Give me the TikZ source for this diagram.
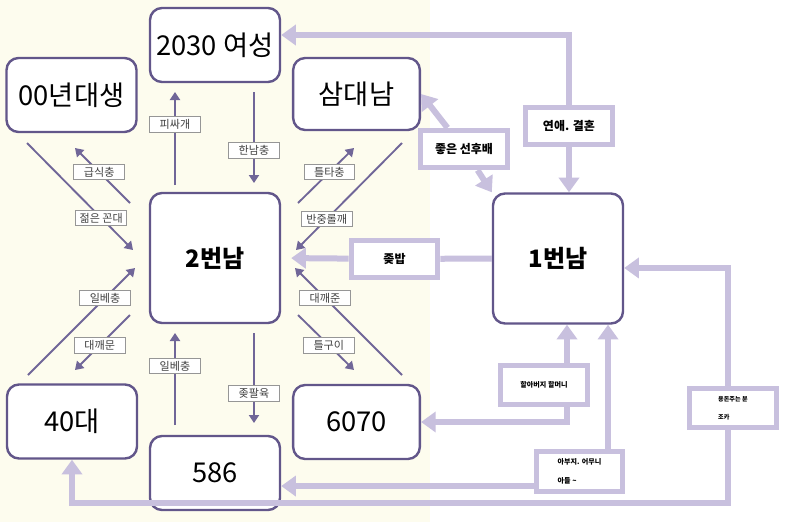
\documentclass[tikz,border=0pt]{standalone}
\usepackage{fontspec}
\setmainfont{Noto Sans CJK KR}
\usetikzlibrary{arrows.meta}
\definecolor{boxline}{RGB}{98,86,138}
\definecolor{thinline}{RGB}{112,102,152}
\definecolor{fatline}{RGB}{200,192,222}
\definecolor{tagline}{RGB}{150,150,150}
\definecolor{cream}{RGB}{253,252,238}
\tikzset{
  group/.style={draw=boxline,line width=1.8pt,rounded corners=9pt,fill=white,minimum width=97.5pt,minimum height=55.5pt,font=\fontsize{20.5pt}{24pt}\selectfont},
  man/.style={group,minimum height=97.5pt,font=\fontsize{18pt}{22pt}\selectfont\bfseries},
  tag/.style={draw=tagline,line width=0.6pt,fill=white,inner sep=1.5pt,minimum width=38pt,minimum height=11.5pt,text=black!75,font=\fontsize{8.3pt}{10pt}\selectfont},
  link/.style={draw=thinline,line width=1.4pt,-{Triangle[width=7.5pt,length=6pt]}},
  fat/.style={draw=fatline,line width=4.5pt},
  fatarrow/.style={fat,-{Triangle[width=15pt,length=11pt]}},
  relbox/.style={draw=fatline,line width=3.8pt,fill=white,minimum width=65pt,minimum height=28pt,font=\fontsize{9pt}{11pt}\selectfont\bfseries},
  note/.style={relbox,minimum height=29.5pt,align=left}
}
\begin{document}
\begin{tikzpicture}[x=0.75pt,y=-0.75pt]
\useasboundingbox (0,0) rectangle (789,522);
\fill[white] (0,0) rectangle (789,522);
\fill[cream] (0,0) rectangle (430,522);
% thin arrows round 2번남
\coordinate (a1) at (175,185); \coordinate (b1) at (175,92);
\coordinate (a2) at (254,92); \coordinate (b2) at (254,183);
\coordinate (a3) at (130,203); \coordinate (b3) at (75,148);
\coordinate (a4) at (27,143); \coordinate (b4) at (133,250);
\coordinate (a5) at (298,203); \coordinate (b5) at (354,148);
\coordinate (a6) at (402,143); \coordinate (b6) at (296,250);
\coordinate (a7) at (28,375); \coordinate (b7) at (135,268);
\coordinate (a8) at (130,315); \coordinate (b8) at (75,370);
\coordinate (a9) at (402,375); \coordinate (b9) at (295,268);
\coordinate (a10) at (298,315); \coordinate (b10) at (354,370);
\coordinate (a11) at (175,425); \coordinate (b11) at (175,333);
\coordinate (a12) at (254,333); \coordinate (b12) at (254,423);
\draw[link] (a1) -- node[tag,pos=0.65] (t1) {피싸개} (b1);
\draw[link] (a2) -- node[tag,pos=0.64] (t2) {한남충} (b2);
\draw[link] (a3) -- node[tag,pos=0.56] (t3) {급식충} (b3);
\draw[link] (a4) -- node[tag,pos=0.70] (t4) {젊은 꼰대} (b4);
\draw[link] (a5) -- node[tag,pos=0.56] (t5) {틀타충} (b5);
\draw[link] (a6) -- node[tag,pos=0.71] (t6) {반중롤깨} (b6);
\draw[link] (a7) -- node[tag,pos=0.72] (t7) {일베충} (b7);
\draw[link] (a8) -- node[tag,pos=0.55] (t8) {대깨문} (b8);
\draw[link] (a9) -- node[tag,pos=0.72] (t9) {대깨준} (b9);
\draw[link] (a10) -- node[tag,pos=0.55] (t10) {틀구이} (b10);
\draw[link] (a11) -- node[tag,pos=0.64] (t11) {일베충} (b11);
\draw[link] (a12) -- node[tag,pos=0.67] (t12) {좆팔육} (b12);
% groups
\node[group] (w2030) at (215,45) {2030 여성};
\node[group] (y00) at (71.5,95) {00년대생};
\node[group,minimum width=95pt,minimum height=54pt] (sam) at (356.5,94) {삼대남};
\node[man] (two) at (215,258) {2번남};
\node[man] (one) at (558,258.5) {1번남};
\node[group] (f40) at (72,421.5) {40대};
\node[group] (s586) at (215,473) {586};
\node[group,minimum width=95pt] (s6070) at (356.5,422) {6070};
% relations of 1번남
\node[relbox] (good) at (464,149) {좋은 선후배};
\node[relbox] (love) at (569,126) {연애. 결혼};
\node[relbox] (bab) at (394.5,259) {좆밥};
\node[note,font=\fontsize{5.3pt}{14pt}\selectfont\bfseries] (grand) at (544,385) {할아버지 할머니};
\node[note,font=\fontsize{5.3pt}{14pt}\selectfont\bfseries] (parents) at (579.5,471.5) {아부지. 어무니\\아들 \textasciitilde};
\node[note,font=\fontsize{4.6pt}{13.5pt}\selectfont\bfseries] (pocket) at (733,408) {용돈주는 분\\조카};
\coordinate (floor) at (72,503);
\draw[fatarrow] (good) -- (sam.east);
\draw[fatarrow] (good) -- (one.north west);
\draw[fatarrow] (love.north) |- ([yshift=7.5pt]w2030.east);
\draw[fatarrow] (love.south) -- (love.south |- one.north);
\draw[fatarrow,shorten >=7.5pt] (bab) -- (two.east);
\draw[fat] (bab) -- (one.west);
\draw[fatarrow] ([xshift=17.25pt]grand.north) -- ([xshift=17.25pt]grand.north |- one.south);
\draw[fatarrow] ([xshift=17.25pt]grand.south) |- (s6070.east);
\draw[fatarrow] ([xshift=21.4pt]parents.north) -- ([xshift=21.4pt]parents.north |- one.south);
\draw[fatarrow] ([yshift=-10.9pt]parents.west) -- ([yshift=-10.9pt]parents.west -| s586.east);
\draw[fatarrow] ([xshift=-3.75pt]pocket.north) |- ([yshift=-7.1pt]one.east);
\draw[fatarrow] ([xshift=-3.75pt]pocket.south) |- (floor) -- (f40.south);
\end{tikzpicture}
\end{document}
